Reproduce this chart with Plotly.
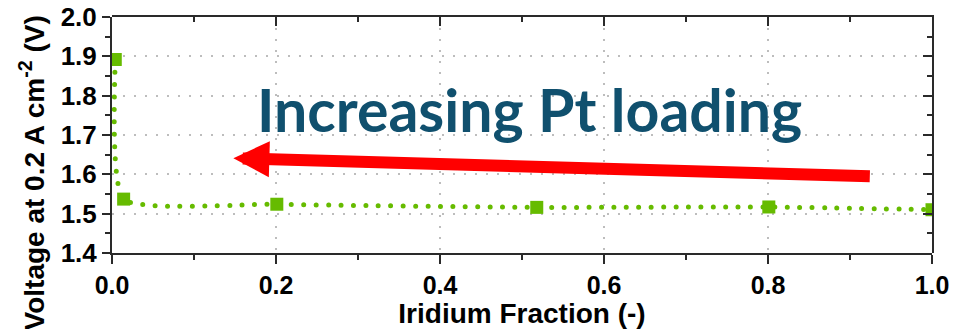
import plotly.graph_objects as go

# Data
iridium_fraction = [0.004, 0.0142, 0.201, 0.518, 0.801, 1.0]
voltage = [1.892, 1.537, 1.524, 1.516, 1.517, 1.510]

x_ticks = [0.0, 0.2, 0.4, 0.6, 0.8, 1.0]
x_tick_labels = ["0.0", "0.2", "0.4", "0.6", "0.8", "1.0"]
y_ticks = [1.4, 1.5, 1.6, 1.7, 1.8, 1.9, 2.0]
y_tick_labels = ["1.4", "1.5", "1.6", "1.7", "1.8", "1.9", "2.0"]

annotation_text = "Increasing Pt loading"
x_title = "Iridium Fraction (-)"
y_title = "Voltage at 0.2 A cm<sup>-2</sup> (V)"

GREEN = "#66BB00"
AXC = "#2a2a2a"
XR = [0, 1.0]
YR = [1.4, 2.0]

fig = go.Figure()
# 1) grid-only subplot (underneath)
fig.add_trace(go.Scatter(
    x=iridium_fraction, y=voltage, xaxis="x", yaxis="y", mode="markers",
    marker=dict(opacity=0), showlegend=False, hoverinfo="skip",
))
# 2) data subplot
fig.add_trace(go.Scatter(
    x=iridium_fraction, y=voltage, xaxis="x2", yaxis="y2", mode="lines+markers",
    line=dict(color=GREEN, width=5, dash="0px,12.4px", shape="spline", smoothing=0.5),
    marker=dict(symbol="square", size=13, color=GREEN),
    showlegend=False, hoverinfo="skip",
))
# 3) bottom/left labelled frame
fig.add_trace(go.Scatter(
    x=iridium_fraction, y=voltage, xaxis="x3", yaxis="y3", mode="markers",
    marker=dict(opacity=0), showlegend=False, hoverinfo="skip",
))
# 4) top/right frame with inward ticks
fig.add_trace(go.Scatter(
    x=iridium_fraction, y=voltage, xaxis="x4", yaxis="y4", mode="markers",
    marker=dict(opacity=0), showlegend=False, hoverinfo="skip",
))

xtickfont = dict(family="Liberation Sans, Arial", size=25, color="black", weight="bold")
ytickfont = dict(family="Liberation Sans, Arial", size=26, color="black", weight="bold")

grid_common = dict(showline=False, ticks="", showticklabels=False, zeroline=False,
                   showgrid=True, gridcolor="#BDBDBD", gridwidth=2, griddash="2px,9px",
                   automargin=False, tickmode="array")
bare_common = dict(showline=False, ticks="", showticklabels=False, zeroline=False,
                   showgrid=False, automargin=False)
frame_common = dict(showticklabels=False, showline=True, linecolor=AXC, linewidth=2,
                    ticks="inside", ticklen=9, tickwidth=2, tickcolor=AXC, showgrid=False,
                    zeroline=False, automargin=False, tickmode="array")

fig.update_layout(
    width=955, height=329,
    margin=dict(l=112, r=23, t=17, b=76, autoexpand=False),
    paper_bgcolor="white", plot_bgcolor="rgba(0,0,0,0)",
    xaxis=dict(domain=[0, 1], anchor="y", range=XR, tickvals=x_ticks, **grid_common),
    yaxis=dict(domain=[0, 1], anchor="x", range=YR, tickvals=y_ticks, **grid_common),
    xaxis2=dict(domain=[0, 1], anchor="y2", range=XR, **bare_common),
    yaxis2=dict(domain=[0, 1], anchor="x2", range=YR, **bare_common),
    xaxis3=dict(
        domain=[0, 1], anchor="y3", side="bottom",
        range=XR, tickmode="array", tickvals=x_ticks, ticktext=x_tick_labels,
        showline=True, linecolor=AXC, linewidth=2,
        ticks="outside", ticklen=9, tickwidth=2, tickcolor=AXC,
        showgrid=False, zeroline=False, tickfont=xtickfont, automargin=False,
        minor=dict(tickmode="linear", tick0=0, dtick=0.1, ticks="outside", ticklen=5, tickwidth=2, tickcolor=AXC, showgrid=False),
        title=dict(text=x_title, font=dict(family="Liberation Sans, Arial", size=28, color="black", weight="bold"), standoff=6),
    ),
    yaxis3=dict(
        domain=[0, 1], anchor="x3", side="left",
        range=YR, tickmode="array", tickvals=y_ticks, ticktext=y_tick_labels,
        showline=True, linecolor=AXC, linewidth=2,
        ticks="outside", ticklen=8, tickwidth=2, tickcolor=AXC,
        showgrid=False, zeroline=False, tickfont=ytickfont, automargin=False,
        minor=dict(tickmode="linear", tick0=1.4, dtick=0.05, ticks="outside", ticklen=5, tickwidth=2, tickcolor=AXC, showgrid=False),
    ),
    xaxis4=dict(
        domain=[0, 1], anchor="y4", side="top", range=XR, tickvals=x_ticks, **frame_common,
        minor=dict(tickmode="linear", tick0=0, dtick=0.1, ticks="inside", ticklen=5, tickwidth=2, tickcolor=AXC, showgrid=False),
    ),
    yaxis4=dict(
        domain=[0, 1], anchor="x4", side="right", range=YR, tickvals=y_ticks, **frame_common,
        minor=dict(tickmode="linear", tick0=1.4, dtick=0.05, ticks="inside", ticklen=5, tickwidth=2, tickcolor=AXC, showgrid=False),
    ),
    annotations=[
        dict(
            text=y_title, xref="paper", yref="paper", x=-0.098, y=0.34,
            xanchor="center", yanchor="middle", textangle=-90, showarrow=False,
            font=dict(family="Liberation Sans, Arial", size=28, color="black", weight="bold"),
        ),
        dict(
            text=annotation_text, xref="x2", yref="y2", x=0.509, y=1.765,
            xanchor="center", yanchor="middle", showarrow=False,
            font=dict(family="Lato", size=59, color="#10506E", weight="bold"),
        ),
        dict(
            text="", xref="x2", yref="y2", axref="x2", ayref="y2",
            x=0.148, y=1.641, ax=0.926, ay=1.595,
            showarrow=True, arrowhead=2, arrowsize=0.6, arrowwidth=12,
            arrowcolor="#FF0000", standoff=0,
        ),
    ],
)

post = """
var s=document.createElement('style');
s.innerHTML='.scatterlayer .js-line{stroke-linecap:round !important;}';
document.head.appendChild(s);
"""
fig.write_html("out.html", post_script=post)
